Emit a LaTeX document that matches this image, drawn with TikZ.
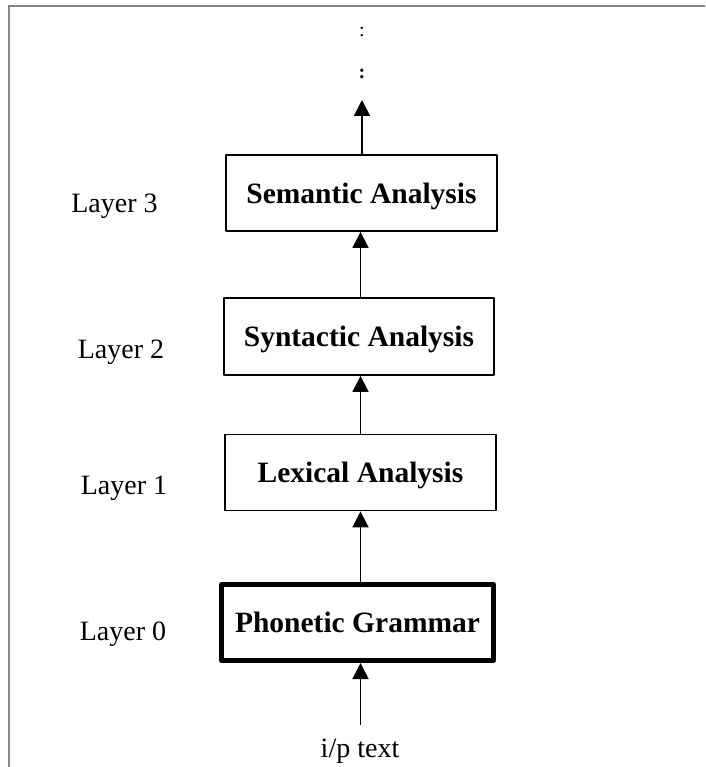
\documentclass[tikz,border=0pt]{standalone}
\usepackage{fontspec}
\setmainfont{Liberation Serif}
\usetikzlibrary{arrows.meta,calc}

\tikzset{
  layerbox/.style={draw=black, line width=1.8pt, fill=white, inner sep=0pt,
    minimum width=271pt, minimum height=76pt, line join=round,
    font=\fontsize{29.5}{33}\selectfont\bfseries, text depth=0pt},
  basebox/.style={layerbox, line width=5pt, minimum width=272pt},
  layerlabel/.style={font=\fontsize{28}{32}\selectfont, anchor=base, inner sep=0pt},
  uparrow/.style={line width=1.8pt, -{Triangle[width=16pt,length=16pt]}},
  frameline/.style={draw=black!48, line width=2pt}
}

\begin{document}
\begin{tikzpicture}[x=1pt, y=1pt]
  \useasboundingbox (0,0) rectangle (705,-767);

  % open frame: top and left edges only
  \draw[frameline] (705,-6) -- (8.5,-6) -- (8.5,-767);

  % processing stages
  \node[basebox]  (phon) at (357.5,-622.5) {Phonetic Grammar};
  \node[layerbox] (lex)  at (360.5,-472.5) {Lexical Analysis};
  \node[layerbox, minimum width=270pt, minimum height=77pt] (syn) at (359,-336.5) {Syntactic Analysis};
  \node[layerbox] (sem)  at (361.5,-193) {Semantic Analysis};

  % layer labels
  \node[layerlabel] (l3) at (114.5,-212) {Layer 3};
  \node[layerlabel] (l2) at (121,-358) {Layer 2};
  \node[layerlabel] (l1) at (124,-494) {Layer 1};
  \node[layerlabel] (l0) at (123,-640) {Layer 0};

  % input text and continuation marks
  \node[layerlabel] (input) at (360,-757) {i/p text};
  \node[font=\fontsize{20}{22}\selectfont, anchor=base, inner sep=0pt] (dots1) at (362,-37) {:};
  \node[font=\fontsize{20}{22}\selectfont\bfseries, anchor=base, inner sep=0pt] (dots2) at (362,-79) {:};

  % vertical axis of the connectors
  \coordinate (axis) at (360.5,0);
  \coordinate (inbase) at (360.5,-725);
  \coordinate (top) at (362,-100);

  \draw[uparrow] (inbase) -- (phon.south -| axis);
  \draw[uparrow] (phon.north -| axis) -- (lex.south -| axis);
  \draw[uparrow] (lex.north -| axis) -- (syn.south -| axis);
  \draw[uparrow] (syn.north -| axis) -- (sem.south -| axis);
  \draw[uparrow] (sem.north -| top) -- (top);
\end{tikzpicture}
\end{document}
